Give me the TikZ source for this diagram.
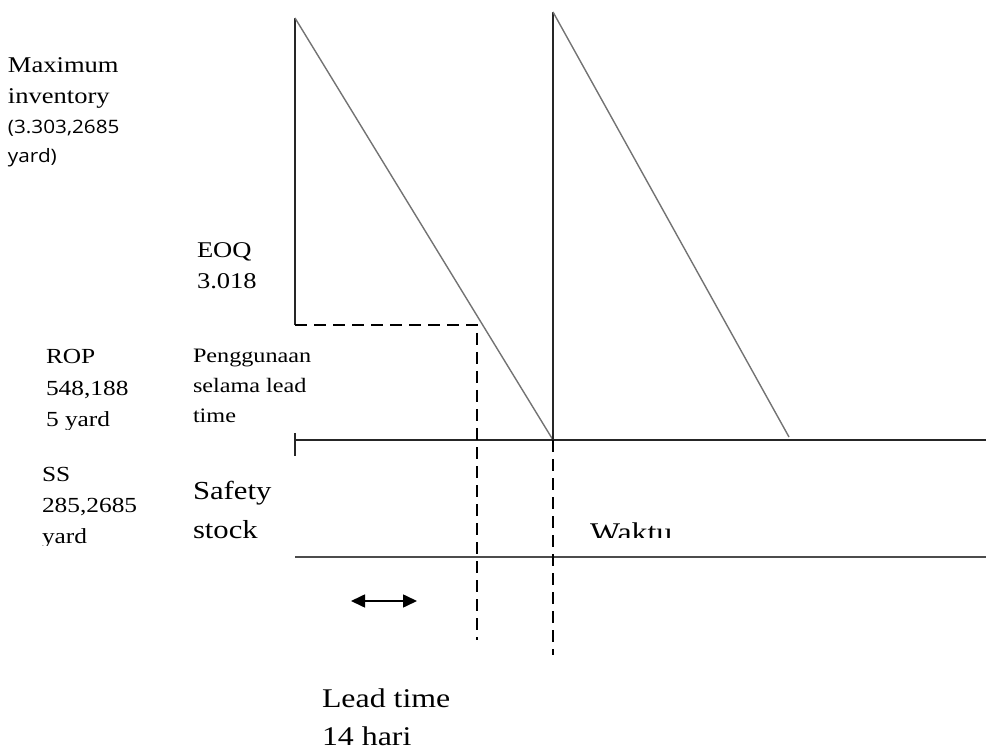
\documentclass[tikz,border=0pt]{standalone}
\usepackage{fontspec}
\setmainfont{Liberation Serif}[FakeStretch=1.18]
\newfontfamily\sansf{Open Sans}[FakeStretch=1.12]
\usetikzlibrary{arrows.meta}
\begin{document}
\begin{tikzpicture}[x=1pt,y=-1pt,
  axis/.style={line width=1.3pt, black!85},
  saw/.style={line width=1.4pt, black!55},
  baseline2/.style={line width=1.8pt, black!70},
  dashline/.style={line width=2.4pt, dash pattern=on 12pt off 7pt},
  lbl/.style={anchor=base west, inner sep=0pt, outer sep=0pt, align=left},
  dbl/.style={{Triangle[length=14pt,width=13pt]}-{Triangle[length=14pt,width=13pt]}, line width=1.6pt}]
\useasboundingbox (0,0) rectangle (986,751);
% coordinates
\coordinate (A0) at (295,18);
\coordinate (A1) at (295,325);
\coordinate (B0) at (553,12);
\coordinate (B1) at (553,440);
\coordinate (C1) at (789,437);
\coordinate (D) at (477,325);
\coordinate (D1) at (477,640);
\coordinate (B2) at (553,655);
\coordinate (H0) at (295,440);
\coordinate (H1) at (986,440);
\coordinate (T0) at (295,433);
\coordinate (T1) at (295,456);
\coordinate (S0) at (295,557);
\coordinate (S1) at (986,557);
\coordinate (L0) at (351,601);
\coordinate (L1) at (417,601);
% lines
\draw[axis] (A0) -- (A1);
\draw[saw] (A0) -- (B1);
\draw[axis] (B0) -- (B1);
\draw[saw] (B0) -- (C1);
\draw[axis] (H0) -- (H1);
\draw[axis] (T0) -- (T1);
\draw[baseline2] (S0) -- (S1);
\draw[dashline] (A1) -- (D) -- (D1);
\draw[dashline] (B1) -- (B2);
\draw[dbl] (L0) -- (L1);
% texts (anchor = baseline of the last line)
\node[lbl, font=\fontsize{22.5}{31}\selectfont] (maxinv) at (8,104) {Maximum\\inventory};
\node[lbl, font=\sansf\fontsize{18.5}{29}\selectfont] (maxval) at (8,163) {(3.303,2685\\yard)};
\node[lbl, font=\fontsize{22.5}{31}\selectfont] (eoq) at (197,289) {EOQ\\3.018};
\begin{scope}
\clip (0,330) rectangle (180,430);
\node[lbl, font=\fontsize{21.5}{31.5}\selectfont] (rop) at (46,427) {ROP\\548,188\\5 yard};
\end{scope}
\node[lbl, font=\fontsize{20.5}{30}\selectfont] (usage) at (193,423) {Penggunaan\\selama lead\\time};
\begin{scope}
\clip (0,450) rectangle (180,545);
\node[lbl, font=\fontsize{21.5}{31}\selectfont] (ss) at (42,543) {SS\\285,2685\\yard};
\end{scope}
\node[lbl, font=\fontsize{26}{39}\selectfont] (safety) at (193,538) {Safety\\stock};
\begin{scope}
\clip (570,500) rectangle (720,537);
\node[lbl, font=\fontsize{27}{38}\selectfont] (waktu) at (590,541) {Waktu};
\end{scope}
\node[lbl, font=\fontsize{27}{38}\selectfont] (lead) at (322,745) {Lead time\\14 hari};
\end{tikzpicture}
\end{document}
